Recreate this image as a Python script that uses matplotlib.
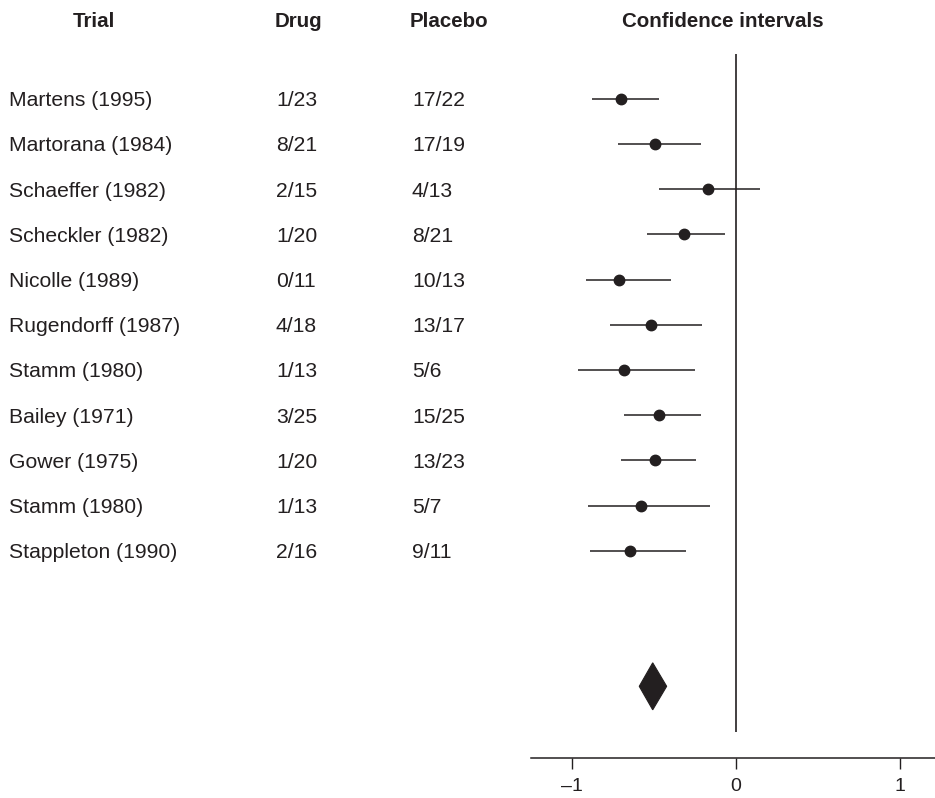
import matplotlib
matplotlib.use("Agg")
import matplotlib.pyplot as plt
import matplotlib.transforms as mtransforms
from matplotlib.patches import Polygon

plt.rcParams['font.family'] = ['Liberation Sans', 'DejaVu Sans']

# Trial data
trials = ["Martens (1995)", "Martorana (1984)", "Schaeffer (1982)", "Scheckler (1982)",
          "Nicolle (1989)", "Rugendorff (1987)", "Stamm (1980)", "Bailey (1971)",
          "Gower (1975)", "Stamm (1980)", "Stappleton (1990)"]
drug = ["1/23", "8/21", "2/15", "1/20", "0/11", "4/18", "1/13", "3/25", "1/20", "1/13", "2/16"]
placebo = ["17/22", "17/19", "4/13", "8/21", "10/13", "13/17", "5/6", "15/25", "13/23", "5/7", "9/11"]
estimate = [-0.70, -0.49, -0.17, -0.315, -0.71, -0.515, -0.68, -0.465, -0.49, -0.58, -0.645]
ci_low = [-0.875, -0.72, -0.465, -0.54, -0.91, -0.765, -0.96, -0.68, -0.70, -0.90, -0.89]
ci_high = [-0.465, -0.21, 0.15, -0.065, -0.395, -0.205, -0.25, -0.21, -0.24, -0.155, -0.305]

# Pooled estimate (diamond)
pooled_est = -0.506
pooled_low = -0.588
pooled_high = -0.421
pooled_row = 13

headers = ["Trial", "Drug", "Placebo", "Confidence intervals"]
xticks = [-1, 0, 1]

INK = "#231f20"
W, H = 935, 798

fig = plt.figure(figsize=(W / 100, H / 100), dpi=100)
ax = fig.add_axes([531 / W, 40 / H, 1 - 531 / W, 1 - 40 / H])
ax.set_xlim(-1.248, 1.215)
ax.set_ylim(14.586, -2.184)

for side in ("top", "right", "left"):
    ax.spines[side].set_visible(False)
ax.spines["bottom"].set_linewidth(1.1)
ax.spines["bottom"].set_color(INK)
ax.set_yticks([])
ax.set_xticks(xticks)
ax.set_xticklabels(["\u2013" + str(abs(t)) if t < 0 else str(t) for t in xticks])
ax.tick_params(axis="x", direction="out", length=8, width=1.0, color=INK,
               labelsize=14.0, labelcolor=INK, pad=6.5)

rows = list(range(len(trials)))

# Null-effect reference line
ax.vlines(0, -1.0, 14.0, color=INK, linewidth=1.2)

# Confidence intervals and point estimates
ax.hlines(rows, ci_low, ci_high, color=INK, linewidth=1.1)
ax.plot(estimate, rows, "o", color=INK, markersize=7.5, linestyle="none")

# Pooled diamond
half_h = 0.52
diamond = Polygon([(pooled_low, pooled_row), (pooled_est, pooled_row - half_h),
                   (pooled_high, pooled_row), (pooled_est, pooled_row + half_h)],
                  closed=True, facecolor=INK, edgecolor=INK, linewidth=0.8)
ax.add_patch(diamond)

# Text columns: x in figure fraction, y in data rows
trans = mtransforms.blended_transform_factory(fig.transFigure, ax.transData)
base = 0.166
fs = 15.2
for r, name, d, p in zip(rows, trials, drug, placebo):
    ax.text(9 / W, r + base, name, transform=trans, ha="left", va="baseline",
            fontsize=fs, color=INK, clip_on=False)
    ax.text(276 / W, r + base, d, transform=trans, ha="left", va="baseline",
            fontsize=fs, color=INK, clip_on=False)
    ax.text(412 / W, r + base, p, transform=trans, ha="left", va="baseline",
            fontsize=fs, color=INK, clip_on=False)

header_x = [94, 298, 449, 723]
for hx, h in zip(header_x, headers):
    ax.text(hx / W, -1.58, h, transform=trans, ha="center", va="baseline",
            fontsize=14.8, fontweight="bold", color=INK, clip_on=False)

fig.savefig("out.png", dpi=100, facecolor="white")
